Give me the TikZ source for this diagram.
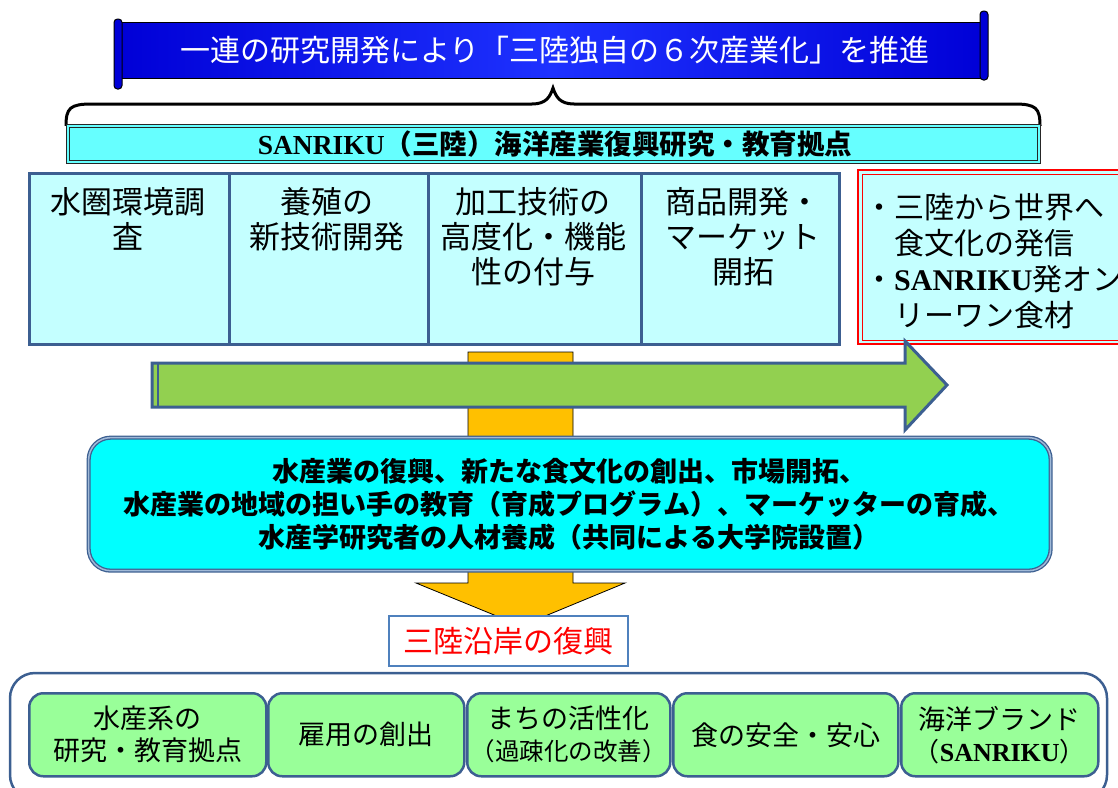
\documentclass[tikz,border=0pt]{standalone}
\usepackage{fontspec}
\setmainfont{Liberation Serif}
\newfontfamily\jp{Noto Sans CJK JP}
\newfontfamily\tms{Liberation Serif}
\newcommand{\SRK}{{\tms\bfseries SANRIKU}}
\definecolor{steel}{RGB}{60,95,145}
\definecolor{lsteel}{RGB}{160,185,215}
\definecolor{lcyan}{RGB}{196,255,255}
\definecolor{tcyan}{RGB}{102,255,255}
\definecolor{fcyan}{RGB}{0,255,255}
\definecolor{agreen}{RGB}{146,208,80}
\definecolor{ayellow}{RGB}{255,192,0}
\definecolor{bgreen}{RGB}{153,255,153}
\definecolor{bblue}{RGB}{79,129,189}
\definecolor{dblue}{RGB}{0,0,215}
\definecolor{mblue}{RGB}{30,50,255}
\tikzset{
  topbox/.style={draw=steel, line width=3, fill=lcyan, anchor=north west, inner sep=0, minimum height=171},
  toptext/.style={anchor=north, inner sep=0, align=center, font=\jp\fontsize{31}{35}\selectfont},
  gbox/.style={draw=steel, line width=2.5, fill=bgreen, rounded corners=14, anchor=north west, inner sep=0, minimum height=83},
  gtext/.style={align=center, inner sep=0, font=\jp\fontsize{27}{32}\selectfont},
}
\begin{document}
\begin{tikzpicture}[x=1pt,y=-1pt]
\useasboundingbox (0,0) rectangle (1118,787);
% banner
\shade[left color=dblue, right color=dblue, middle color=mblue] (120,22) rectangle (984,78);
\draw[black, line width=1] (120,22) -- (984,22) (120,78) -- (984,78);
\draw[black, line width=1, fill=dblue, rounded corners=3.5] (114,19) rectangle (122,89);
\draw[black, line width=1, fill=dblue, rounded corners=3.5] (980,11) rectangle (988,80);
\node[text=white, inner sep=0, font=\jp\fontsize{30}{36}\selectfont] (bannertext) at (555,50) {一連の研究開発により「三陸独自の６次産業化」を推進};
% brace
\draw[black, line width=3] (66,126) .. controls (66,108) and (70,104) .. (92,104) -- (532,104) .. controls (546,104) and (550,97) .. (553,88) .. controls (556,97) and (560,104) .. (574,104) -- (1014,104) .. controls (1036,104) and (1040,108) .. (1040,126);
% title bar
\node[draw=black!85, line width=1.2, fill=tcyan, anchor=north west, inner sep=0, minimum width=974, minimum height=39] (title) at (66,124) {};
\draw[black!85, line width=0.8] (69,127) rectangle (1037,160);
\node[inner sep=0, font=\jp\bfseries\fontsize{27.5}{30}\selectfont] (titletext) at (555,144) {\SRK（三陸）海洋産業復興研究・教育拠点};
% yellow arrow
\draw[black, line width=0.8, fill=ayellow] (468,352) -- (573,352) -- (573,583) -- (625,583) -- (521,626) -- (416,583) -- (468,583) -- cycle;
% top boxes
\node[topbox, minimum width=200] (b1) at (28,172) {};
\node[topbox, minimum width=199] (b2) at (228,172) {};
\node[topbox, minimum width=213] (b3) at (427,172) {};
\node[topbox, minimum width=198] (b4) at (640,172) {};
\node[toptext] (t1) at (128,187) {水圏環境調\\査};
\node[toptext] (t2) at (327,187) {養殖の\\新技術開発};
\node[toptext] (t3) at (533,187) {加工技術の\\高度化・機能\\性の付与};
\node[toptext] (t4) at (743,187) {商品開発・\\マーケット\\開拓};
% red box
\draw[red, line width=1.2, fill=lcyan] (858,170) rectangle (1130,344);
\draw[red, line width=0.8] (862,174) rectangle (1130,340);
\node[anchor=north west, inner sep=0, align=left, font=\jp\fontsize{30}{36}\selectfont] (rtext) at (864,193) {・三陸から世界へ\\　食文化の発信\\・\SRK 発オン\\　リーワン食材};
% green arrow
\draw[steel, line width=3, fill=agreen, line join=miter] (152,363) -- (905,363) -- (905,341) -- (947,385) -- (905,430) -- (905,407) -- (152,407) -- cycle;
\draw[steel, line width=2] (158,363) -- (158,407);
% cyan box
\node[draw=steel, double=lsteel, double distance=1.5, line width=1.3, fill=fcyan, rounded corners=22, anchor=north west, inner sep=0, minimum width=962, minimum height=133] (mid) at (88,437) {};
\node[align=center, inner sep=0, font=\jp\bfseries\fontsize{27}{33}\selectfont] (midtext) at (569,504) {水産業の復興、新たな食文化の創出、市場開拓、\\水産業の地域の担い手の教育（育成プログラム）、マーケッターの育成、\\水産学研究者の人材養成（共同による大学院設置）};
% result box
\node[draw=bblue, line width=2, fill=white, anchor=north west, inner sep=0, minimum width=239, minimum height=50, text=red, font=\jp\fontsize{30}{36}\selectfont] (res) at (388,615) {三陸沿岸の復興};
% bottom container
\draw[steel, line width=2.5, rounded corners=25] (10,673) rectangle (1107,800);
\node[gbox, minimum width=237] (g1) at (28,692) {};
\node[gbox, minimum width=196] (g2) at (267,692) {};
\node[gbox, minimum width=203] (g3) at (466,692) {};
\node[gbox, minimum width=225] (g4) at (672,692) {};
\node[gbox, minimum width=197] (g5) at (900,692) {};
\node[gtext] (gt1) at (g1.center) {水産系の\\研究・教育拠点};
\node[gtext] (gt2) at (g2.center) {雇用の創出};
\node[gtext] (gt3) at (g3.center) {まちの活性化\\{\fontsize{24.5}{28}\selectfont （過疎化の改善）}};
\node[gtext] (gt4) at (g4.center) {食の安全・安心};
\node[gtext] (gt5) at (g5.center) {海洋ブランド\\{\fontsize{26}{28}\selectfont （\SRK）}};
\end{tikzpicture}
\end{document}
